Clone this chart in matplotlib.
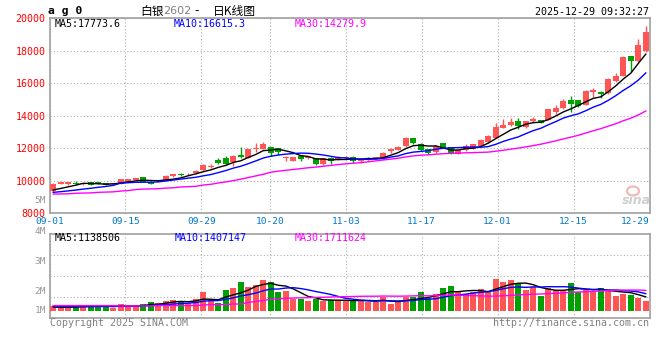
import numpy as np
import matplotlib
matplotlib.use('Agg')
import matplotlib.pyplot as plt
from matplotlib.patches import Ellipse

# ---------------- dados (ag0, 09-01 .. 12-29, 80 pregões) ----------------
opens = [9360, 9796, 9776, 9878, 9776, 9939, 9939, 9837, 9776, 9816,
         9939, 10020, 10204, 9898, 9959, 10000, 10286, 10429, 10388, 10490,
         10640, 10857, 11265, 11428, 11183, 11591, 11408, 11938, 11958, 12081,
         11999, 11387, 11245, 11550, 11387, 11387, 11020, 11428, 11346, 11408,
         11490, 11245, 11286, 11388, 11388, 11816, 11898, 12122, 12612, 12245,
         11959, 11755, 12306, 12061, 11653, 11898, 11959, 12163, 12388, 12653,
         13240, 13455, 13680, 13333, 13660, 13743, 13743, 14235, 14480, 14973,
         14973, 14686, 15445, 15485, 15383, 16140, 16450, 17680, 17390, 18000]
highs = [9840, 9910, 9910, 10000, 9860, 9950, 9950, 9878, 9870, 10140,
         10100, 10180, 10220, 10000, 10060, 10340, 10420, 10490, 10480, 10674,
         11010, 11061, 11387, 11530, 11571, 12081, 11980, 12305, 12366, 12100,
         12020, 11550, 11490, 11570, 11510, 11400, 11400, 11440, 11550, 11550,
         11551, 11388, 11470, 11490, 11760, 12041, 12120, 12714, 12630, 12306,
         11980, 12224, 12320, 12100, 11910, 12245, 12280, 12592, 12816, 13571,
         13825, 13845, 13865, 13700, 13905, 13765, 14420, 14665, 15035, 15220,
         14990, 15590, 15690, 15525, 16310, 16655, 17700, 17700, 18745, 19525]
lows = [9340, 9780, 9714, 9714, 9760, 9740, 9820, 9714, 9760, 9800,
        9920, 10000, 9920, 9776, 9940, 9990, 10260, 10265, 10360, 10420,
        10620, 10775, 11061, 10979, 10898, 11387, 11390, 11795, 11940, 11530,
        11591, 11224, 11220, 11224, 11346, 11000, 11000, 11061, 11265, 11306,
        11123, 11082, 11245, 11327, 11370, 11694, 11880, 12061, 12265, 11837,
        11680, 11735, 12030, 11653, 11640, 11816, 11940, 12122, 12306, 12612,
        13230, 13375, 13210, 13230, 13540, 13560, 13730, 14090, 14400, 14235,
        14560, 14670, 15137, 15075, 15370, 16080, 16430, 16715, 17330, 17940]
closes = [9816, 9898, 9898, 9776, 9837, 9755, 9837, 9755, 9857, 10122,
          10082, 10163, 9939, 9796, 10041, 10326, 10388, 10347, 10449, 10633,
          10979, 10939, 11122, 11061, 11551, 11490, 11958, 12040, 12244, 11714,
          11754, 11469, 11469, 11346, 11448, 11020, 11387, 11224, 11469, 11469,
          11190, 11306, 11429, 11449, 11735, 11959, 12102, 12653, 12347, 11898,
          11694, 12143, 12041, 11694, 11898, 12143, 12265, 12530, 12755, 13285,
          13460, 13600, 13375, 13680, 13785, 13580, 14400, 14500, 14910, 14725,
          14625, 15547, 15567, 15362, 16285, 16450, 17640, 17370, 18355, 19155]
# volume em milhões
vols = [0.38, 0.27, 0.27, 0.44, 0.27, 0.47, 0.38, 0.38, 0.19, 0.55,
        0.38, 0.38, 0.55, 0.71, 0.63, 0.80, 0.88, 0.80, 0.60, 0.96,
        1.54, 0.80, 0.63, 1.70, 1.87, 2.36, 1.95, 2.12, 2.53, 2.36,
        1.54, 1.62, 0.96, 0.96, 0.80, 0.96, 0.80, 0.88, 0.88, 0.80,
        0.80, 0.88, 0.71, 0.71, 1.10, 0.55, 0.71, 1.10, 1.10, 1.54,
        1.04, 1.37, 1.87, 2.03, 1.54, 1.37, 1.54, 1.79, 1.62, 2.61,
        2.36, 2.53, 2.20, 1.70, 1.95, 1.21, 1.87, 1.70, 1.70, 2.28,
        1.54, 1.70, 1.54, 1.87, 1.70, 1.21, 1.37, 1.29, 1.04, 0.80]

# início das médias móveis (dias antes de haver histórico suficiente)
ma5_head = [9440, 9530, 9630, 9730]
ma10_head = [9290, 9330, 9380, 9430, 9490, 9540, 9600, 9650, 9720]
ma30_head = [9184, 9190, 9200, 9230, 9245, 9255, 9290, 9306, 9320, 9370,
             9400, 9460, 9490, 9500, 9510, 9550, 9570, 9620, 9640, 9660,
             9740, 9784, 9865, 9930, 10010, 10100, 10200, 10300, 10400]
vol_ma5_head = [0.30, 0.28, 0.28, 0.30]
vol_ma10_head = [0.36, 0.36, 0.35, 0.35, 0.34, 0.34, 0.34, 0.35, 0.35]
vol_ma30_head = [0.42, 0.42, 0.42, 0.42, 0.42, 0.42, 0.42, 0.42, 0.42, 0.39,
                 0.39, 0.39, 0.39, 0.39, 0.42, 0.42, 0.42, 0.42, 0.42, 0.42,
                 0.47, 0.50, 0.50, 0.50, 0.55, 0.55, 0.68, 0.76, 0.85]

tick_idx = [0, 10, 20, 29, 39, 49, 59, 69, 79]
tick_dates = ['09-01', '09-15', '09-29', '10-20', '11-03', '11-17', '12-01', '12-15', '12-29']

RED = '#FF5555'
GREEN = '#00A000'
GRID = '#b0b0b0'
BORDER = '#a0a0a0'


def media_movel(vals, n, head):
    out = list(head)
    for i in range(len(head), len(vals)):
        out.append(np.mean(vals[i - n + 1:i + 1]))
    return out


plt.rcParams['font.family'] = ['DejaVu Sans Mono', 'Noto Sans CJK SC']
fs = 7.2

fig = plt.figure(figsize=(6.6, 3.6), dpi=100)
W, H = 660, 360
ax = fig.add_axes([49.5 / W, 1 - 213.3 / H, 600 / W, 195 / H])
ax2 = fig.add_axes([49.5 / W, 1 - 318.3 / H, 600 / W, 84 / H])

x = np.arange(len(closes))
o = np.array(opens)
c = np.array(closes)
cores = np.where(c >= o, RED, GREEN)

# posições das linhas de data (escala das grades é ligeiramente diferente da dos candles)
grid_pos = [-0.5 + i * 80 / 79 for i in tick_idx]

for a in (ax, ax2):
    a.set_xlim(-0.5, 79.5)
    a.set_axisbelow(True)
    a.grid(True, color=GRID, linestyle=(0, (1, 2)), linewidth=0.8)
    for s in a.spines.values():
        s.set_color(BORDER)
        s.set_linewidth(1.2)
    a.tick_params(length=0)

# ---------- painel de preço ----------
ax.vlines(x, lows, highs, colors=cores, linewidth=1, zorder=3)
ax.bar(x, np.maximum(np.abs(c - o), 60), bottom=np.minimum(o, c), width=0.76,
       color=cores, linewidth=0, zorder=4)
ax.plot(x, media_movel(closes, 5, ma5_head), color='black', lw=1, zorder=5)
ax.plot(x, media_movel(closes, 10, ma10_head), color='blue', lw=1, zorder=5)
ax.plot(x, media_movel(closes, 30, ma30_head), color='#FF00FF', lw=1, zorder=5)

ax.set_ylim(8000, 20000)
ax.set_yticks(range(8000, 20001, 2000))
ax.set_yticklabels([str(v) for v in range(8000, 20001, 2000)], color='red', fontsize=fs)
ax.tick_params(axis='y', pad=3)
ax.set_xticks(grid_pos)
ax.set_xticklabels(tick_dates, color='#0077CC', fontsize=6.8)
ax.tick_params(axis='x', pad=3)
ax.get_xticklabels()[-1].set_ha('right')

ax.text(0.009, 0.971, 'MA5:17773.6', transform=ax.transAxes, color='black', fontsize=fs, va='center')
ax.text(0.207, 0.971, 'MA10:16615.3', transform=ax.transAxes, color='blue', fontsize=fs, va='center')
ax.text(0.409, 0.971, 'MA30:14279.9', transform=ax.transAxes, color='#FF00FF', fontsize=fs, va='center')

# ---------- painel de volume ----------
ax2.bar(x, vols, width=0.8, color=cores, linewidth=0, zorder=3)
ax2.plot(x, media_movel(vols, 5, vol_ma5_head), color='black', lw=1, zorder=5)
ax2.plot(x, media_movel(vols, 10, vol_ma10_head), color='blue', lw=1, zorder=5)
ax2.plot(x, media_movel(vols, 30, vol_ma30_head), color='#FF00FF', lw=1, zorder=5)
vlo, vhi = -0.63, 6.31
ax2.set_ylim(vlo, vhi)
ax2.set_yticks([vlo + (vhi - vlo) * f for f in (0.25, 0.5, 0.75)])
ax2.set_yticklabels([])
ax2.set_xticks(grid_pos)
ax2.set_xticklabels([])

ax2.text(0.009, 0.955, 'MA5:1138506', transform=ax2.transAxes, color='black', fontsize=fs, va='center')
ax2.text(0.208, 0.955, 'MA10:1407147', transform=ax2.transAxes, color='blue', fontsize=fs, va='center')
ax2.text(0.409, 0.955, 'MA30:1711624', transform=ax2.transAxes, color='#FF00FF', fontsize=fs, va='center')

for lab, yy in [('4M', 1.036), ('3M', 0.682), ('2M', 0.325), ('1M', 0.087)]:
    ax2.text(-0.006, yy, lab, transform=ax2.transAxes, color='#999999', fontsize=6.8,
             ha='right', va='center')
ax.text(-0.006, 0.065, '5M', transform=ax.transAxes, color='#999999', fontsize=6.8,
        ha='right', va='center')

# ---------- títulos e rodapé ----------
fig.text(48 / W, 1 - 11 / H, 'a g 0', fontsize=8.2, fontweight='bold', va='center')
fig.text(140 / W, 1 - 11 / H, '白银', fontsize=8.5, family=['Noto Sans CJK SC'], va='center')
fig.text(163 / W, 1 - 11 / H, '2602', fontsize=8, family=['DejaVu Sans'], color='#808080', va='center')
fig.text(197 / W, 1 - 11 / H, '-', fontsize=8.5, family=['DejaVu Sans'], ha='center', va='center')
fig.text(213 / W, 1 - 11 / H, '日K线图', fontsize=8.5, family=['Noto Sans CJK SC'], va='center')
fig.text(649 / W, 1 - 12 / H, '2025-12-29 09:32:27', fontsize=fs, ha='right', va='center')

fig.text(50 / W, 1 - 323.5 / H, 'Copyright 2025 SINA.COM', fontsize=fs, color='#808080', va='center')
fig.text(649 / W, 1 - 323.5 / H, 'http://finance.sina.com.cn', fontsize=fs, color='#808080',
         ha='right', va='center')

# marca d'água sina
fig.patches.append(Ellipse((633 / W, 1 - 191 / H), 12 / W, 9 / H, transform=fig.transFigure,
                           facecolor='none', edgecolor='#f2b8b8', lw=1.6))
fig.text(636 / W, 1 - 200 / H, 'sina', fontsize=9, family=['DejaVu Sans'], fontweight='bold',
         style='italic', color='#cfcfcf', ha='center', va='center')

fig.savefig('out.png', dpi=100)
